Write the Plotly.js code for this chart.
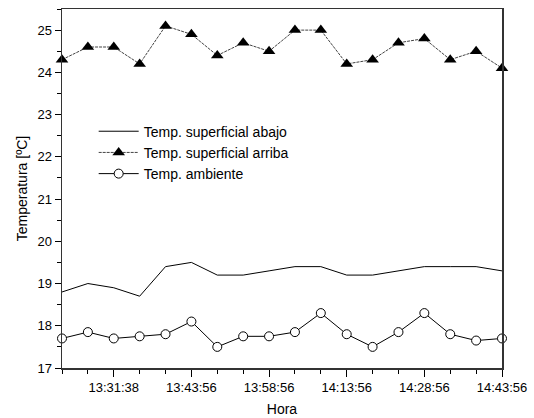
<!DOCTYPE html>
<html>
<head>
<meta charset="utf-8">
<script src="https://cdn.plot.ly/plotly-3.0.1.min.js"></script>
<style>html,body{margin:0;padding:0;background:#fff;}#chart{width:534px;height:418px;}</style>
</head>
<body>
<div id="chart"></div>
<script>
const xIndex = [0,1,2,3,4,5,6,7,8,9,10,11,12,13,14,15,16,17];
const tickPositions = [2,5,8,11,14,17];
const tickLabels = ["13:31:38","13:43:56","13:58:56","14:13:56","14:28:56","14:43:56"];
const abajo = [18.8,19.0,18.9,18.7,19.4,19.5,19.2,19.2,19.3,19.4,19.4,19.2,19.2,19.3,19.4,19.4,19.4,19.3];
const arriba = [24.3,24.6,24.6,24.2,25.1,24.9,24.4,24.7,24.5,25.0,25.0,24.2,24.3,24.7,24.8,24.3,24.5,24.1];
const ambiente = [17.7,17.85,17.7,17.75,17.8,18.1,17.5,17.75,17.75,17.85,18.3,17.8,17.5,17.85,18.3,17.8,17.65,17.7];

const traces = [
  {x:xIndex, y:abajo, name:"Temp. superficial abajo", type:"scatter", mode:"lines",
   line:{color:"#000", width:1}, cliponaxis:false},
  {x:xIndex, y:arriba, name:"Temp. superficial arriba", type:"scatter", mode:"lines+markers",
   line:{color:"#444", width:1, dash:"3px,1px"},
   marker:{symbol:"triangle-up", size:11, color:"#000", line:{width:0}}, cliponaxis:false},
  {x:xIndex, y:ambiente, name:"Temp. ambiente", type:"scatter", mode:"lines+markers",
   line:{color:"#000", width:1},
   marker:{symbol:"circle", size:9, color:"#fff", line:{color:"#000", width:1}}, cliponaxis:false}
];

const layout = {
  width:534, height:418,
  margin:{l:62, r:32, t:9, b:50},
  paper_bgcolor:"#fff", plot_bgcolor:"#fff",
  font:{family:"Liberation Sans, Arial, sans-serif", size:13, color:"#000"},
  showlegend:true,
  legend:{x:0.072, y:0.703, xanchor:"left", yanchor:"top", bgcolor:"rgba(0,0,0,0)",
          font:{size:14}, tracegroupgap:0, itemwidth:40},
  xaxis:{range:[0,17], tickmode:"array", tickvals:tickPositions, ticktext:tickLabels,
         ticks:"outside", ticklen:7, tickwidth:1, tickcolor:"#000",
         showline:true, linecolor:"#333", linewidth:1.5, mirror:true,
         showgrid:false, zeroline:false,
         minor:{dtick:1, tick0:0, ticks:"outside", ticklen:4, tickcolor:"#000", tickwidth:1, showgrid:false},
         title:{text:"Hora", font:{size:14}, standoff:10}},
  yaxis:{range:[17,25.5], dtick:1, tick0:17, ticks:"outside", ticklen:6, tickwidth:1, tickcolor:"#000",
         showline:true, linecolor:"#333", linewidth:1.5, mirror:true,
         showgrid:false, zeroline:false,
         minor:{dtick:0.5, tick0:17, ticks:"outside", ticklen:4, tickcolor:"#000", tickwidth:1, showgrid:false},
         title:{text:"Temperatura [ºC]", font:{size:14}, standoff:6}}
};

Plotly.newPlot("chart", traces, layout, {displayModeBar:false, staticPlot:true});
</script>
</body>
</html>
